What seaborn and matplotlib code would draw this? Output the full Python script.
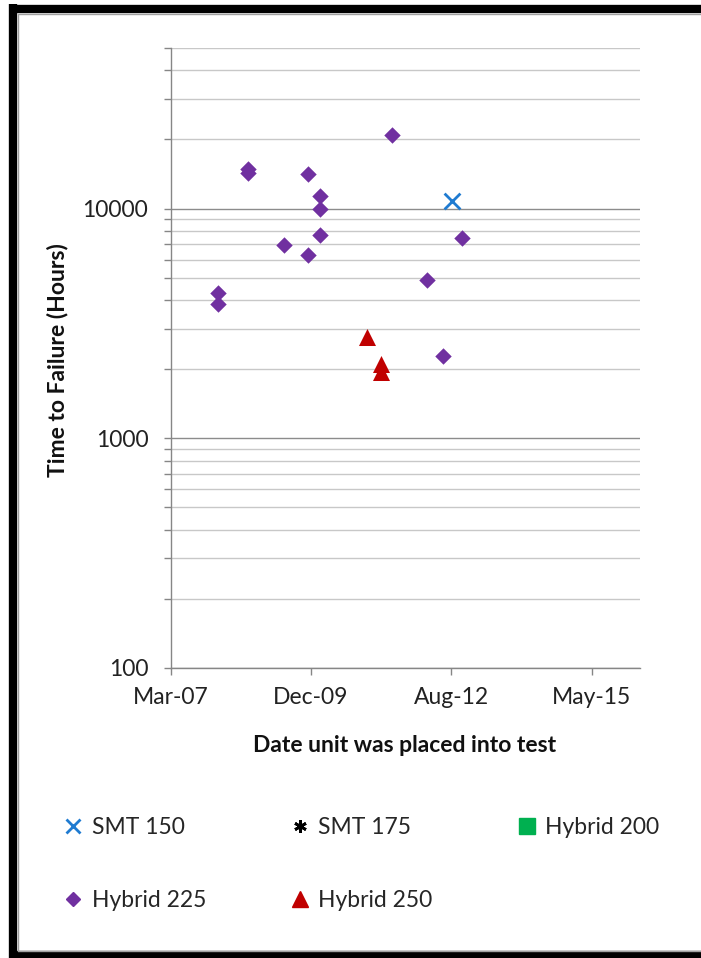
import matplotlib
matplotlib.use("Agg")
import matplotlib.pyplot as plt
import matplotlib.dates as mdates
from matplotlib.lines import Line2D
from matplotlib.ticker import LogLocator, FixedLocator, NullFormatter, FuncFormatter
import seaborn as sns
import pandas as pd

# ---- data ----
smt150_dates = ["2012-09-03"]
smt150_hours = [10800]

hybrid225_dates = ["2008-02-13", "2008-02-13", "2008-09-09", "2008-09-09",
                   "2009-05-26", "2009-11-15", "2009-11-15",
                   "2010-02-06", "2010-02-06", "2010-02-06",
                   "2011-07-01", "2012-03-11", "2012-06-28", "2012-11-11"]
hybrid225_hours = [4300, 3850, 14800, 14300,
                   6950, 14200, 6250,
                   11300, 10000, 7700,
                   21000, 4900, 2290, 7470]

hybrid250_dates = ["2011-01-09", "2011-04-14", "2011-04-14"]
hybrid250_hours = [2750, 2100, 1950]

series_labels = ["SMT 150", "SMT 175", "Hybrid 200", "Hybrid 225", "Hybrid 250"]
x_tick_dates = ["2007-03-10", "2009-12-04", "2012-08-30", "2015-05-27"]
x_limits = ["2007-03-10", "2016-05-01"]
y_tick_values = [100, 1000, 10000]

# ---- style ----
sns.set_theme(style="white")
plt.rcParams["font.family"] = ["Lato", "DejaVu Sans"]

fig = plt.figure(figsize=(7.01, 9.58), dpi=100)
W, H = 701, 958
ax = fig.add_axes([170.5 / W, 1 - 668 / H, 469.2 / W, 620 / H])

c_blue = "#1f7bd1"
c_purple = "#7030a0"
c_red = "#c00000"
c_green = "#00b050"

df225 = pd.DataFrame({"date": pd.to_datetime(hybrid225_dates), "hours": hybrid225_hours})
df250 = pd.DataFrame({"date": pd.to_datetime(hybrid250_dates), "hours": hybrid250_hours})
df150 = pd.DataFrame({"date": pd.to_datetime(smt150_dates), "hours": smt150_hours})

sns.scatterplot(data=df225, x="date", y="hours", marker="D", s=70, color=c_purple,
                edgecolor=c_purple, linewidth=0, ax=ax, zorder=3)
sns.scatterplot(data=df250, x="date", y="hours", marker="^", s=150, color=c_red,
                edgecolor=c_red, linewidth=0, ax=ax, zorder=3)
sns.scatterplot(data=df150, x="date", y="hours", marker="x", s=130, color=c_blue,
                linewidth=2, ax=ax, zorder=3)

ax.set_yscale("log")
ax.set_ylim(100, 50000)
ax.set_xlim(pd.Timestamp(x_limits[0]), pd.Timestamp(x_limits[1]))

ax.yaxis.set_major_locator(FixedLocator(y_tick_values))
ax.yaxis.set_major_formatter(FuncFormatter(lambda v, p: f"{int(round(v))}"))
ax.yaxis.set_minor_locator(LogLocator(base=10, subs=range(2, 10), numticks=20))
ax.yaxis.set_minor_formatter(NullFormatter())

ax.set_xticks([pd.Timestamp(d) for d in x_tick_dates])
ax.xaxis.set_major_formatter(mdates.DateFormatter("%b-%y"))

ax.grid(False)
ax.yaxis.grid(True, which="major", color="#8c8c8c", linewidth=1.0, zorder=0)
ax.yaxis.grid(True, which="minor", color="#c8c8c8", linewidth=1.0, zorder=0)
ax.set_axisbelow(True)

for side in ["top", "right"]:
    ax.spines[side].set_visible(False)
for side in ["left", "bottom"]:
    ax.spines[side].set_color("#868686")
    ax.spines[side].set_linewidth(1.0)

ax.tick_params(axis="y", which="major", direction="out", length=5, width=1,
               color="#868686", pad=11, labelsize=16.5, labelcolor="#222222", left=True)
ax.tick_params(axis="y", which="minor", direction="out", length=5, width=1,
               color="#868686", left=True)
ax.tick_params(axis="x", which="major", direction="out", length=5, width=1,
               color="#868686", pad=9, labelsize=16.5, labelcolor="#222222", bottom=True)

ax.set_xlabel("")
ax.set_ylabel("")
fig.text(57 / W, 1 - 360 / H, "Time to Failure (Hours)", rotation=90, ha="center",
         va="center", fontsize=16.5, fontweight="bold", color="#111111")
fig.text(405 / W, 1 - 745 / H, "Date unit was placed into test", ha="center",
         va="center", fontsize=16.5, fontweight="bold", color="#111111")

h_smt150 = Line2D([], [], linestyle="none", marker="x", color=c_blue, markersize=10, markeredgewidth=2)
h_smt175 = Line2D([], [], linestyle="none", marker=(6, 2, 0), color="black", markersize=9, markeredgewidth=2)
h_h200 = Line2D([], [], linestyle="none", marker="s", color=c_green, markersize=11)
h_h225 = Line2D([], [], linestyle="none", marker="D", color=c_purple, markersize=7.5)
h_h250 = Line2D([], [], linestyle="none", marker="^", color=c_red, markersize=12)
# matplotlib fills legend columns first; order so rows read like the reference
handles = [h_smt150, h_h225, h_smt175, h_h250, h_h200]
labels = [series_labels[0], series_labels[3], series_labels[1], series_labels[4], series_labels[2]]
fig.legend(handles, labels, ncol=3, loc="upper left",
           bbox_to_anchor=(62 / W, 1 - 817 / H), frameon=False, fontsize=16.5,
           handlelength=1.0, handletextpad=0.3, columnspacing=3.6, labelspacing=2.25,
           borderaxespad=0, borderpad=0)

# outer frame (left, top, bottom only; right side is cut off in the reference)
frame_kw = dict(transform=fig.transFigure, color="black", linewidth=6, solid_capstyle="butt")
fig.add_artist(Line2D([13 / W, 13 / W], [1 - 4 / H, 1 - 958 / H], **frame_kw))
fig.add_artist(Line2D([9 / W, 1.0], [1 - 9 / H, 1 - 9 / H], **frame_kw))
fig.add_artist(Line2D([9 / W, 1.0], [1 - 955 / H, 1 - 955 / H], **frame_kw))
grey_kw = dict(transform=fig.transFigure, color="#a0a0a0", linewidth=1.0)
fig.add_artist(Line2D([17.5 / W, 17.5 / W], [1 - 13.5 / H, 1 - 951 / H], **grey_kw))
fig.add_artist(Line2D([17.5 / W, 1.0], [1 - 13.5 / H, 1 - 13.5 / H], **grey_kw))
fig.add_artist(Line2D([17.5 / W, 1.0], [1 - 951 / H, 1 - 951 / H], **grey_kw))

fig.savefig("out.png", dpi=100)
